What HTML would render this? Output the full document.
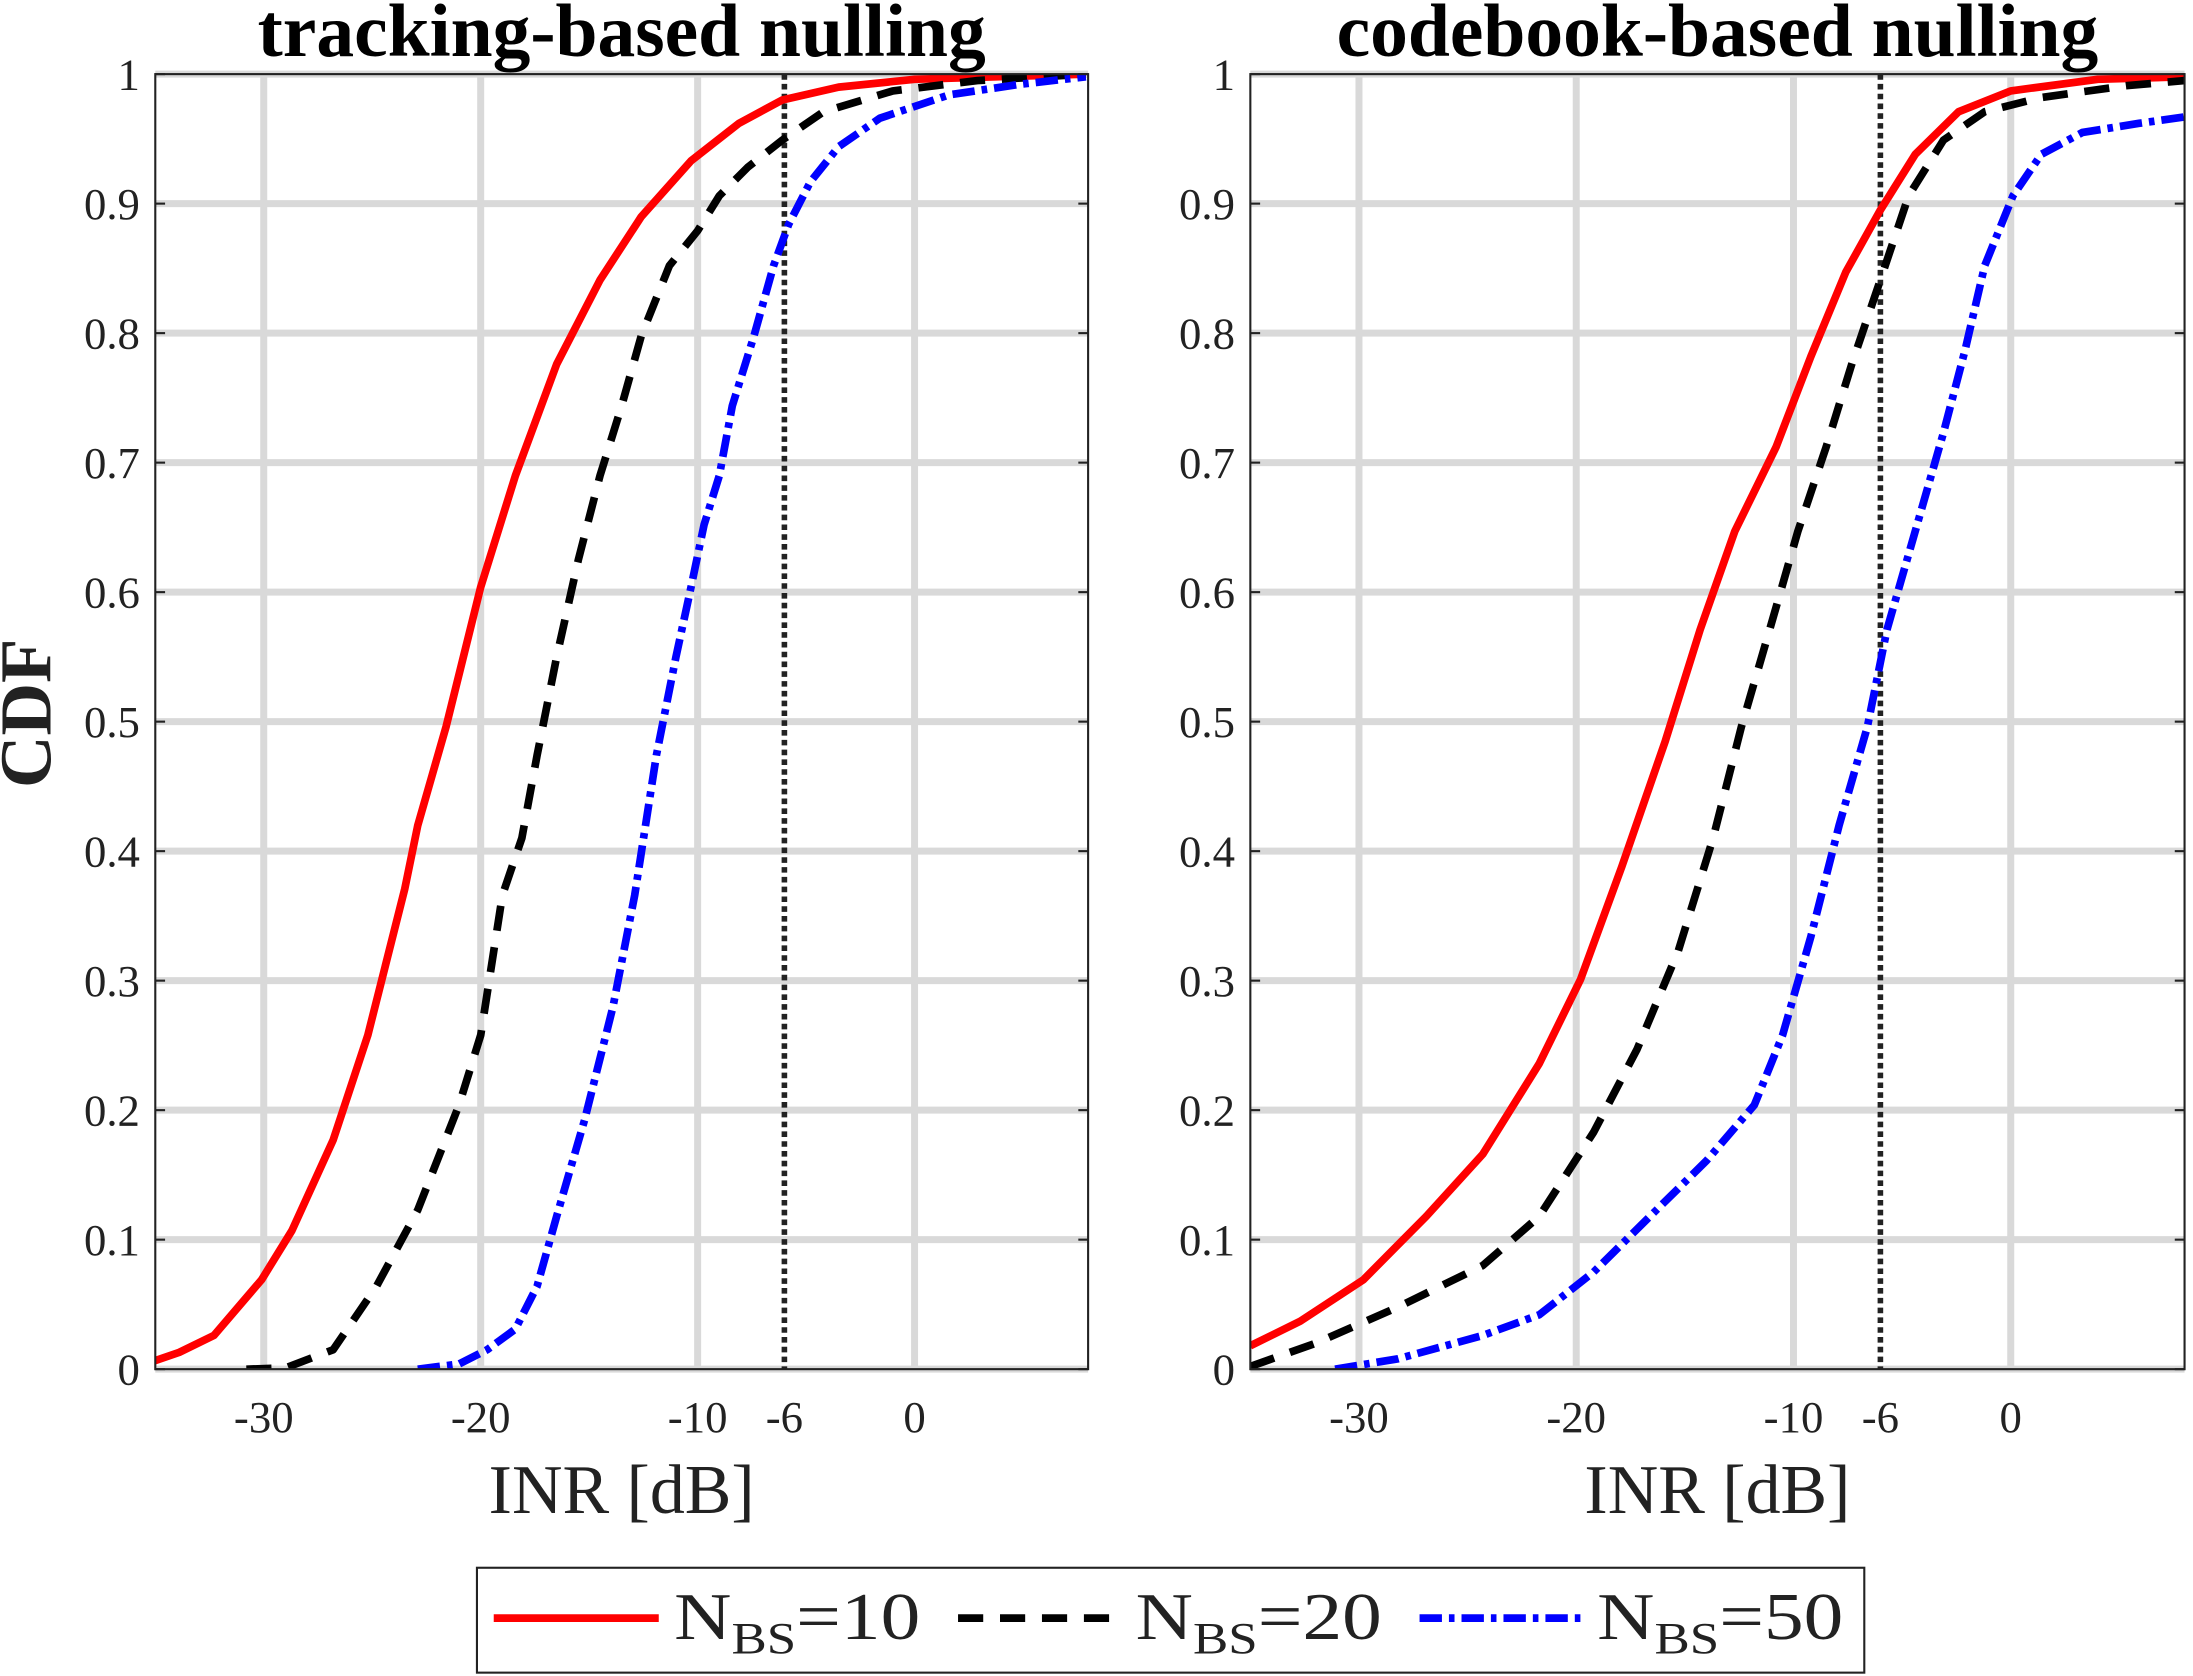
<!DOCTYPE html>
<html><head><meta charset="utf-8"><style>
html,body{margin:0;padding:0;background:#fff;}
svg{display:block;}
text{font-family:"Liberation Serif",serif;}
</style></head><body>
<svg id="chart" width="2193" height="1676" viewBox="0 0 1568 1198.4" xmlns="http://www.w3.org/2000/svg"></svg>
<script>
const xTicks=[-30,-20,-10,-6,0];
const xTickLabels=["-30","-20","-10","-6","0"];
const yTicks=[0,0.1,0.2,0.3,0.4,0.5,0.6,0.7,0.8,0.9,1];
const yTickLabels=["0","0.1","0.2","0.3","0.4","0.5","0.6","0.7","0.8","0.9","1"];
const titles=["tracking-based nulling","codebook-based nulling"];
const seriesNames=["N_BS=10","N_BS=20","N_BS=50"];
// left panel
const tRedX=[-35.1,-33.9,-32.3,-30.1,-28.7,-26.8,-25.2,-23.5,-22.9,-21.6,-20,-18.4,-16.5,-14.5,-12.6,-10.3,-8.1,-6.1,-3.5,0,7.9];
const tRedY=[0.006,0.013,0.026,0.069,0.107,0.177,0.258,0.371,0.42,0.496,0.604,0.69,0.776,0.841,0.89,0.933,0.962,0.98,0.99,0.996,1];
const tBlkX=[-30.8,-29,-26.8,-24.8,-22.9,-21,-20,-19,-18.1,-17.4,-16.5,-15.5,-14.5,-13.5,-12.6,-11.3,-10,-9,-7.7,-6.1,-4.2,-1,2.9,7.9];
const tBlkY=[0,0.001,0.015,0.064,0.123,0.204,0.258,0.366,0.41,0.474,0.55,0.625,0.69,0.744,0.798,0.852,0.879,0.906,0.928,0.949,0.971,0.987,0.995,1];
const tBluX=[-22.9,-21,-19.7,-18.4,-17.4,-16.5,-15.2,-13.9,-12.9,-11.9,-11,-10.3,-9.7,-9,-8.4,-7.4,-6.5,-5.8,-4.8,-3.5,-1.6,1.6,4.8,7.9];
const tBluY=[0,0.004,0.015,0.031,0.064,0.118,0.193,0.28,0.366,0.474,0.55,0.604,0.652,0.69,0.744,0.798,0.852,0.884,0.917,0.944,0.966,0.984,0.992,0.998];
// right panel
const cRedX=[-35,-32.7,-29.8,-26.9,-24.3,-21.7,-19.8,-17.9,-15.9,-14.3,-12.7,-10.8,-9.2,-7.6,-6,-4.4,-2.4,0,4,8];
const cRedY=[0.018,0.037,0.069,0.118,0.166,0.236,0.301,0.388,0.485,0.571,0.647,0.712,0.782,0.847,0.895,0.938,0.971,0.987,0.996,0.998];
const cBlkX=[-35,-32,-28.2,-24.3,-21.7,-19.2,-17.2,-15.3,-13.7,-12.4,-11.1,-9.8,-8.5,-7.3,-6,-4.7,-3.1,-1.2,1.4,5.3,8];
const cBlkY=[0.002,0.02,0.048,0.08,0.118,0.183,0.247,0.323,0.41,0.496,0.571,0.647,0.712,0.777,0.841,0.906,0.949,0.971,0.982,0.991,0.995];
const cBluX=[-31.1,-28.2,-24.3,-21.7,-19.2,-16.6,-14,-11.8,-10.5,-9.2,-7.9,-6.6,-5.7,-4.4,-3.1,-2.1,-1.2,0.1,1.4,3.3,5.9,8];
const cBluY=[0,0.008,0.026,0.042,0.075,0.118,0.161,0.204,0.258,0.334,0.42,0.496,0.571,0.647,0.723,0.787,0.852,0.906,0.938,0.955,0.962,0.967];
const thresholdX=-6;

const NS="http://www.w3.org/2000/svg";
const svgRoot=document.getElementById('chart');
function mk(tag,attrs,parent){const e=document.createElementNS(NS,tag);for(const k in attrs)e.setAttribute(k,attrs[k]);(parent||svgRoot).appendChild(e);return e;}
const xMinV=-35,xMaxV=8,plotTop=53,plotBot=979;
const panels=[{x0:111,x1:778,series:[[tRedX,tRedY],[tBlkX,tBlkY],[tBluX,tBluY]]},{x0:894,x1:1562,series:[[cRedX,cRedY],[cBlkX,cBlkY],[cBluX,cBluY]]}];
const styles=[{stroke:"#ff0000",dash:""},{stroke:"#000",dash:"18 12"},{stroke:"#0000ff",dash:"16 5 4 5"}];
panels.forEach((p,pi)=>{
  const sx=v=>p.x0+(v-xMinV)/(xMaxV-xMinV)*(p.x1-p.x0);
  const sy=v=>plotBot-v*(plotBot-plotTop);
  const g=mk('g',{});
  
  
  const clipId='clip'+pi;
  const cp=mk('clipPath',{id:clipId},g);mk('rect',{x:p.x0,y:plotTop,width:p.x1-p.x0,height:plotBot-plotTop},cp);
  xTicks.forEach((t,i)=>{
    if(t!==thresholdX){const gl=mk('line',{x1:sx(t),x2:sx(t),y1:plotTop,y2:plotBot,stroke:"#d9d9d9","stroke-width":5},g);
    
    }
    const tl=mk('text',{x:sx(t),y:1024,"font-size":32,"text-anchor":"middle",fill:"#222"},g);tl.textContent=xTickLabels[i];
    
    
  });
  yTicks.forEach((t,i)=>{
    const gl=mk('line',{x1:p.x0,x2:p.x1,y1:sy(t),y2:sy(t),stroke:"#d9d9d9","stroke-width":5},g);
    
    
    mk('line',{x1:p.x0,x2:p.x0+7,y1:sy(t),y2:sy(t),stroke:"#222","stroke-width":1.5},g);
    mk('line',{x1:p.x1-7,x2:p.x1,y1:sy(t),y2:sy(t),stroke:"#222","stroke-width":1.5},g);
    const tl=mk('text',{x:p.x0-11,y:sy(t)+11,"font-size":32,"text-anchor":"end",fill:"#222"},g);tl.textContent=yTickLabels[i];
    
    
  });
  const th=mk('line',{x1:sx(thresholdX),x2:sx(thresholdX),y1:plotTop,y2:plotBot,stroke:"#222","stroke-width":4,"stroke-dasharray":"4 3"},g);
  
  
  p.series.forEach((s,si)=>{
    const d=s[0].map((x,k)=>(k?'L':'M')+sx(x).toFixed(1)+','+sy(s[1][k]).toFixed(1)).join(' ');
    const path=mk('path',{d:d,fill:"none",stroke:styles[si].stroke,"stroke-width":5.5,"stroke-dasharray":styles[si].dash,"clip-path":"url(#"+clipId+")","stroke-linejoin":"round"},g);
    
    
  });
  const box=mk('rect',{x:p.x0,y:plotTop,width:p.x1-p.x0,height:plotBot-plotTop,fill:"none",stroke:"#222","stroke-width":1.5},g);
  
  
  const ti=mk('text',{x:(p.x0+p.x1)/2,y:40,"font-size":54,"font-weight":"bold","text-anchor":"middle",fill:"#000"},g);ti.textContent=titles[pi];
  
  
  const xl=mk('text',{x:(p.x0+p.x1)/2,y:1082,"font-size":50,"text-anchor":"middle",fill:"#222"},g);xl.textContent="INR [dB]";
  
  
});
const yl=mk('text',{x:0,y:0,"font-size":52,"font-weight":"bold","text-anchor":"middle",fill:"#222",transform:"translate(36,510) rotate(-90)"});yl.textContent="CDF";


// legend
const lg=mk('g',{});


mk('rect',{x:341,y:1121,width:992,height:75,fill:"#fff",stroke:"#222","stroke-width":1.5},lg);
const legX=[353,685,1015],txtX=[482,812,1142];
seriesNames.forEach((n,i)=>{
  const ln=mk('line',{x1:legX[i],x2:legX[i]+118,y1:1157,y2:1157,stroke:styles[i].stroke,"stroke-width":5.5,"stroke-dasharray":styles[i].dash},lg);
  
  
  const parts=n.split(/_|=/);
  const t=mk('text',{x:txtX[i],y:1172,"font-size":48,fill:"#222",textLength:176,lengthAdjust:"spacingAndGlyphs"},lg);
  
  
  const a=mk('tspan',{},t);a.textContent=parts[0];
  const b=mk('tspan',{"font-size":32,dy:10},t);b.textContent=parts[1];
  const c=mk('tspan',{dy:-10},t);c.textContent="="+parts[2];
});
</script>
</body></html>
